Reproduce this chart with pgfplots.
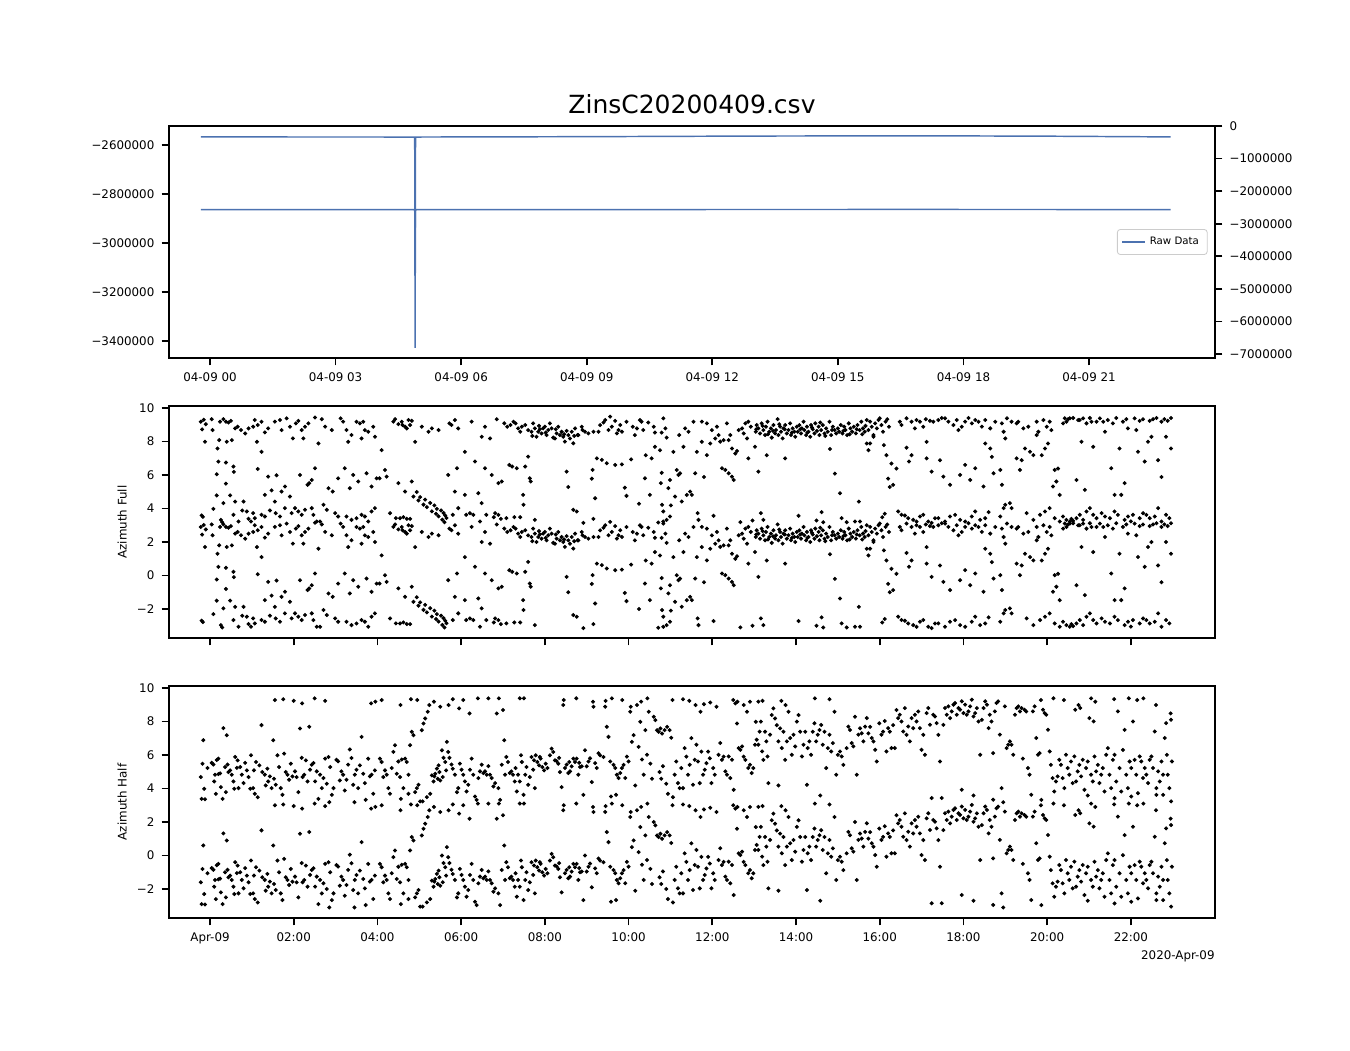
\documentclass[border=0pt]{standalone}
\usepackage{fontspec}
\setmainfont{DejaVu Sans}
\usepackage{pgfplots}
\pgfplotsset{compat=1.18}
\usepackage{pgfplotstable}
\definecolor{rawblue}{RGB}{76,114,176}

\pgfplotstableread{
h v
-0.22 -2567000
2.00 -2567300
4.89 -2567500
4.90 -3428000
4.91 -2567500
9.00 -2566000
13.00 -2563500
17.00 -2562500
20.00 -2564000
22.95 -2567000
}\rawtab

\pgfplotstableread[row sep=\\]{
h a\\
-0.22 2.90\\ -0.20 -2.70\\ -0.19 2.44\\ -0.17 -2.78\\ -0.15 3.02\\ -0.12 1.70\\ -0.10 2.75\\
0.04 3.05\\ 0.06 2.40\\ 0.08 -2.30\\ 0.16 -1.50\\ 0.16 -0.24\\ 0.18 1.30\\ 0.20 0.52\\ 0.22 1.80\\ 0.24 2.90\\ 0.26 -2.96\\
0.29 -3.10\\ 0.32 3.05\\ 0.32 -1.96\\ 0.38 2.90\\ 0.38 0.46\\ 0.38 -0.80\\ 0.40 1.70\\ 0.44 2.85\\ 0.48 -1.50\\ 0.50 2.95\\
0.52 1.80\\ 0.56 0.22\\ 0.56 -2.66\\ 0.57 -0.10\\ 0.60 2.50\\ 0.60 -1.87\\ 0.66 2.60\\ 0.68 -3.06\\ 0.74 2.40\\ 0.77 -2.40\\
0.80 -1.87\\ 0.84 2.20\\ 0.88 -2.46\\ 0.92 2.50\\ 0.92 -2.90\\ 0.98 -3.06\\
1.03 2.60\\ 1.03 -2.56\\ 1.07 3.00\\ 1.07 -2.86\\ 1.12 1.70\\ 1.14 2.70\\ 1.14 0.08\\ 1.23 2.90\\ 1.23 1.10\\ 1.23 -2.66\\
1.31 2.26\\ 1.31 -1.47\\ 1.31 -2.76\\ 1.39 2.50\\ 1.39 -0.38\\ 1.43 -2.40\\ 1.47 -1.20\\ 1.55 2.90\\ 1.55 -1.87\\ 1.57 -2.56\\
1.59 -0.30\\ 1.67 3.00\\ 1.67 -2.76\\ 1.71 2.40\\ 1.71 -1.27\\ 1.79 -0.97\\ 1.79 -2.26\\ 1.83 3.10\\ 1.91 2.60\\ 1.91 -1.57\\
1.95 -2.56\\ 1.98 1.90\\
2.03 -2.26\\ 2.05 2.80\\ 2.11 2.95\\ 2.11 -2.46\\ 2.15 -0.28\\ 2.19 2.40\\ 2.19 -2.66\\ 2.23 1.90\\ 2.27 2.60\\ 2.27 -2.36\\
2.33 -0.87\\ 2.35 2.80\\ 2.37 -0.77\\ 2.43 -0.58\\ 2.43 -2.26\\ 2.47 -2.66\\ 2.51 3.15\\ 2.51 0.12\\ 2.55 -3.06\\ 2.59 1.60\\
2.63 -3.06\\ 2.67 3.05\\ 2.71 -2.06\\ 2.75 2.60\\ 2.79 -2.36\\ 2.83 -1.07\\ 2.91 2.40\\ 2.93 -1.27\\ 2.99 -2.56\\
3.06 -0.48\\ 3.06 -2.76\\ 3.12 3.10\\ 3.18 2.90\\ 3.22 0.12\\ 3.26 2.40\\ 3.26 -2.76\\ 3.30 1.70\\ 3.34 -1.07\\ 3.38 2.10\\
3.38 -2.96\\ 3.42 -0.28\\ 3.50 2.90\\ 3.50 -2.86\\ 3.54 -0.67\\ 3.58 2.80\\ 3.62 1.90\\ 3.62 -2.66\\ 3.66 2.90\\ 3.70 2.40\\
3.70 -2.76\\ 3.74 -0.18\\ 3.78 2.30\\ 3.78 -3.06\\ 3.86 -0.97\\ 3.86 -2.46\\ 3.90 2.60\\ 3.94 2.00\\ 3.94 -2.26\\ 3.98 -0.48\\
4.05 -0.48\\ 4.10 1.20\\ 4.18 0.02\\ 4.22 -0.38\\ 4.30 -2.56\\ 4.38 2.90\\ 4.42 3.05\\ 4.44 -2.86\\ 4.50 2.75\\ 4.50 -0.77\\
4.54 -2.86\\ 4.58 2.90\\ 4.60 2.70\\ 4.62 -2.80\\ 4.66 2.60\\ 4.66 -1.27\\ 4.70 2.50\\ 4.70 -2.90\\ 4.74 3.00\\ 4.78 2.70\\
4.78 -2.90\\ 4.82 -0.67\\ 4.82 2.95\\ 4.86 -1.57\\ 4.90 1.70\\ 4.94 -1.30\\ 4.98 -1.80\\
5.02 -1.60\\ 5.06 2.60\\ 5.10 -2.05\\ 5.14 -1.75\\ 5.18 -2.20\\ 5.22 2.30\\ 5.26 -1.95\\ 5.30 -2.45\\ 5.30 2.50\\ 5.36 -2.10\\
5.40 -2.60\\ 5.42 -2.30\\ 5.46 -2.75\\ 5.46 2.40\\ 5.52 -2.40\\ 5.55 -2.95\\ 5.58 -2.55\\ 5.60 -3.10\\ 5.62 -2.70\\ 5.65 -2.85\\
5.69 -0.28\\ 5.72 2.80\\ 5.77 2.70\\ 5.80 -2.66\\ 5.85 3.00\\ 5.85 -1.27\\ 5.90 0.12\\ 5.93 2.50\\ 5.93 -2.26\\
6.09 1.10\\ 6.09 -1.47\\ 6.12 -2.66\\ 6.21 -2.56\\ 6.25 2.90\\ 6.29 -2.66\\ 6.33 0.52\\ 6.41 -1.37\\ 6.45 -3.06\\ 6.49 2.00\\
6.49 -1.96\\ 6.57 2.60\\ 6.57 0.12\\ 6.60 -2.66\\ 6.69 1.90\\ 6.73 -0.28\\ 6.78 -2.80\\ 6.81 -2.56\\ 6.85 3.05\\ 6.89 -0.77\\
6.89 -2.66\\ 6.95 -2.90\\ 6.97 -0.67\\
7.03 2.80\\ 7.08 -2.86\\ 7.10 2.60\\ 7.15 0.32\\ 7.18 2.70\\ 7.22 0.22\\ 7.25 2.90\\ 7.27 -2.80\\ 7.30 2.80\\ 7.33 0.12\\
7.36 2.50\\ 7.41 -2.80\\ 7.41 2.30\\ 7.45 2.60\\ 7.48 -1.47\\ 7.49 -2.06\\ 7.53 2.70\\ 7.53 0.22\\ 7.60 2.40\\ 7.60 0.81\\
7.64 -0.48\\ 7.66 -0.67\\ 7.68 2.30\\ 7.72 2.80\\ 7.76 2.50\\ 7.76 -2.96\\ 7.80 2.00\\ 7.84 2.30\\ 7.88 2.45\\ 7.92 2.20\\
7.96 2.50\\ 8.00 2.60\\ 8.04 2.10\\ 8.08 2.40\\ 7.70 2.05\\ 7.86 2.65\\ 8.02 2.25\\
8.12 2.80\\ 8.16 2.50\\ 8.20 1.95\\ 8.24 1.90\\ 8.28 2.20\\ 8.32 2.60\\ 8.36 2.10\\ 8.40 2.30\\ 8.44 2.00\\ 8.48 1.71\\
8.52 -0.08\\ 8.52 2.35\\ 8.56 2.10\\ 8.56 -1.00\\ 8.60 1.90\\ 8.64 2.30\\ 8.68 1.61\\ 8.68 -2.36\\ 8.72 2.50\\ 8.76 -2.46\\
8.78 2.10\\ 8.80 2.10\\ 8.88 2.60\\ 8.90 2.40\\ 8.92 -3.14\\ 8.96 2.30\\ 8.26 2.45\\ 8.46 2.15\\ 8.70 2.05\\
9.04 2.20\\ 9.12 -0.50\\ 9.14 0.02\\ 9.16 2.30\\ 9.16 -2.90\\ 9.20 -1.67\\ 9.24 0.71\\ 9.28 2.30\\ 9.32 2.70\\ 9.36 0.62\\
9.40 2.85\\ 9.44 3.00\\ 9.48 0.42\\ 9.52 2.40\\ 9.56 3.20\\ 9.60 2.60\\ 9.68 2.95\\ 9.68 0.32\\ 9.72 2.20\\ 9.76 2.40\\
9.80 2.70\\ 9.84 2.30\\ 9.84 0.35\\ 9.91 -1.04\\ 9.95 2.90\\ 9.95 -1.53\\
10.06 0.65\\ 10.10 2.60\\ 10.15 2.10\\ 10.20 2.50\\ 10.25 -2.00\\ 10.27 3.00\\ 10.31 2.90\\ 10.35 2.40\\ 10.39 -0.48\\ 10.41 0.90\\
10.47 2.85\\ 10.51 -1.47\\ 10.55 0.71\\ 10.60 2.60\\ 10.63 1.40\\ 10.63 2.25\\ 10.71 -3.12\\ 10.75 1.20\\ 10.77 -0.77\\ 10.79 -0.15\\
10.79 2.25\\ 10.80 -2.06\\ 10.83 -3.06\\ 10.83 -2.46\\ 10.83 3.10\\ 10.88 2.50\\ 10.91 1.95\\ 10.91 -2.96\\ 10.95 -1.07\\ 10.99 -0.58\\
10.99 -2.76\\ 11.01 -2.10\\
11.07 1.10\\ 11.11 -1.57\\ 11.15 0.02\\ 11.19 -0.28\\ 11.21 2.10\\ 11.23 -0.18\\ 11.27 -1.87\\ 11.31 1.40\\ 11.35 2.50\\ 11.39 -1.47\\
11.43 2.30\\ 11.47 -1.27\\ 11.51 -1.47\\ 11.55 2.90\\ 11.59 -0.18\\ 11.63 1.10\\ 11.65 -2.56\\ 11.67 -2.96\\ 11.75 2.90\\ 11.75 1.70\\
11.80 -0.40\\ 11.87 2.80\\ 11.87 0.90\\ 11.95 1.60\\ 11.99 2.40\\ 12.03 -2.72\\
12.07 1.90\\ 12.11 2.60\\ 12.15 2.10\\ 12.19 1.71\\ 12.23 0.12\\ 12.27 1.80\\ 12.31 0.02\\ 12.35 2.80\\ 12.39 1.80\\ 12.39 -0.18\\
12.43 2.10\\ 12.47 -0.38\\ 12.47 1.30\\ 12.51 -0.58\\ 12.55 1.00\\ 12.59 1.15\\ 12.63 2.40\\ 12.67 -3.10\\ 12.71 2.50\\ 12.75 2.20\\
12.79 2.80\\ 12.83 1.90\\ 12.86 2.90\\ 12.86 0.71\\ 12.92 2.60\\ 12.96 -3.00\\
13.02 1.40\\ 13.04 2.30\\ 13.06 2.70\\ 13.10 -0.08\\ 13.10 2.50\\ 13.14 2.20\\ 13.16 -2.56\\ 13.18 2.80\\ 13.22 2.40\\ 13.22 -2.96\\
13.26 2.10\\ 13.28 2.60\\ 13.30 0.90\\ 13.32 2.90\\ 13.36 2.30\\ 13.40 2.50\\ 13.42 1.95\\ 13.46 2.70\\ 13.50 2.20\\ 13.52 2.40\\
13.56 3.05\\ 13.58 2.10\\ 13.62 2.60\\ 13.64 2.30\\ 13.68 1.90\\ 13.70 2.50\\ 13.74 0.71\\ 13.74 2.70\\ 13.78 2.20\\ 13.82 2.40\\
13.86 2.80\\ 13.88 2.10\\ 13.92 2.50\\ 13.96 2.30\\ 13.98 2.00\\
13.05 2.45\\ 13.20 2.65\\ 13.33 2.15\\ 13.45 2.35\\ 13.60 2.75\\ 13.73 2.45\\ 13.90 2.25\\
14.02 2.60\\ 14.04 2.30\\ 14.06 -2.72\\ 14.08 2.70\\ 14.12 2.20\\ 14.14 2.50\\ 14.18 2.90\\ 14.20 2.40\\ 14.24 2.10\\ 14.26 2.60\\
14.30 2.30\\ 14.34 2.00\\ 14.36 2.70\\ 14.40 2.45\\ 14.44 2.20\\ 14.46 2.80\\ 14.49 -3.00\\ 14.50 2.35\\ 14.54 2.60\\ 14.56 2.10\\
14.60 2.40\\ 14.61 -2.50\\ 14.64 2.70\\ 14.65 -3.10\\ 14.68 2.20\\ 14.72 2.50\\ 14.76 2.30\\ 14.80 2.90\\ 14.81 1.27\\ 14.84 2.10\\
14.88 2.60\\ 14.92 2.40\\ 14.93 -0.20\\ 14.96 2.20\\
14.10 2.45\\ 14.27 2.25\\ 14.38 2.55\\ 14.58 2.85\\ 14.70 2.05\\ 14.86 2.40\\
15.00 2.50\\ 15.03 2.30\\ 15.05 -1.37\\ 15.07 2.70\\ 15.09 -2.86\\ 15.11 2.20\\ 15.15 2.60\\ 15.18 2.40\\ 15.21 -3.10\\ 15.22 2.10\\
15.26 2.80\\ 15.30 2.50\\ 15.34 2.30\\ 15.38 2.60\\ 15.41 -3.06\\ 15.43 2.20\\ 15.47 2.70\\ 15.50 -1.87\\ 15.52 2.40\\ 15.53 -3.06\\
15.56 2.90\\ 15.60 2.50\\ 15.64 2.30\\ 15.69 1.60\\ 15.69 3.00\\ 15.73 1.20\\ 15.73 2.40\\ 15.77 2.90\\ 15.77 1.60\\ 15.81 2.60\\
15.85 2.00\\ 15.85 2.10\\ 15.89 2.80\\ 15.93 2.50\\ 15.97 3.00\\ 16.00 3.10\\
15.13 2.35\\ 15.28 2.15\\ 15.45 2.45\\ 15.58 2.15\\ 15.66 2.65\\
16.04 2.70\\ 16.06 -2.80\\ 16.08 2.30\\ 16.10 1.50\\ 16.12 -2.60\\ 16.14 2.90\\ 16.16 0.90\\ 16.18 3.05\\ 16.20 -0.50\\ 16.22 2.60\\
16.24 -1.00\\ 16.28 0.40\\ 16.32 -0.87\\ 16.40 0.10\\ 16.44 -2.46\\ 16.48 2.90\\ 16.52 2.70\\ 16.52 -2.66\\ 16.60 -2.70\\ 16.64 3.10\\
16.64 1.35\\ 16.68 -2.86\\ 16.70 0.52\\ 16.76 2.90\\ 16.76 0.90\\ 16.80 -2.96\\ 16.84 2.50\\ 16.88 3.00\\ 16.88 -3.06\\ 16.96 2.90\\
16.96 -2.76\\ 17.04 2.60\\ 17.04 -2.66\\ 17.10 3.05\\ 17.12 1.70\\ 17.12 0.71\\ 17.16 -3.06\\ 17.20 2.95\\ 17.24 -0.08\\ 17.24 -3.14\\
17.28 2.90\\ 17.32 -2.86\\
17.40 3.00\\ 17.40 -2.86\\ 17.44 0.60\\ 17.48 3.12\\ 17.52 -0.38\\ 17.56 3.10\\ 17.56 -3.06\\ 17.64 2.90\\ 17.68 -0.87\\ 17.68 -2.76\\
17.76 2.70\\ 17.80 -2.66\\ 17.84 3.00\\ 17.88 2.40\\ 17.92 -0.28\\ 17.92 -2.96\\ 17.96 2.60\\ 18.04 2.90\\ 18.04 0.32\\ 18.04 -3.06\\
18.12 3.12\\ 18.16 -0.58\\ 18.20 2.80\\ 18.20 -2.76\\ 18.28 3.00\\ 18.28 0.12\\ 18.28 -2.46\\
18.36 2.90\\ 18.40 -2.96\\ 18.44 2.60\\ 18.48 -0.97\\ 18.52 3.00\\ 18.52 1.60\\ 18.52 -2.86\\ 18.60 -2.50\\ 18.64 2.50\\ 18.64 1.30\\
18.68 0.80\\ 18.72 -0.18\\ 18.76 2.90\\ 18.88 0.02\\ 18.88 -2.76\\ 18.92 -0.87\\ 18.92 2.80\\ 18.96 2.30\\ 18.96 -2.26\\ 19.00 1.90\\
19.00 -2.06\\ 19.04 3.10\\ 19.11 -1.96\\ 19.15 -2.26\\ 19.15 2.90\\ 19.27 0.71\\ 19.27 2.80\\
19.31 2.90\\ 19.35 0.02\\ 19.39 0.60\\ 19.43 2.50\\ 19.47 1.30\\ 19.51 -2.56\\ 19.55 2.60\\ 19.59 1.10\\ 19.67 0.90\\ 19.67 -2.96\\
19.75 2.10\\ 19.75 2.90\\ 19.79 2.30\\ 19.83 -2.66\\ 19.87 0.90\\ 19.91 3.00\\ 19.95 1.30\\ 19.95 -2.46\\ 19.99 2.60\\ 20.02 1.60\\
20.06 2.90\\ 20.06 -2.26\\
20.10 2.40\\ 20.14 -0.97\\ 20.18 0.02\\ 20.18 -2.86\\ 20.22 -0.67\\ 20.26 0.10\\ 20.30 -1.47\\ 20.30 -3.06\\ 20.38 2.80\\ 20.38 -2.76\\
20.42 3.10\\ 20.46 2.90\\ 20.46 -2.96\\ 20.50 3.05\\ 20.54 3.10\\ 20.54 -3.06\\ 20.58 -2.90\\ 20.62 3.12\\ 20.62 -3.02\\ 20.70 -0.58\\
20.70 -2.86\\ 20.74 3.00\\ 20.78 3.00\\ 20.78 -2.66\\ 20.82 1.70\\ 20.86 3.10\\ 20.86 -2.96\\ 20.90 -1.17\\ 20.94 2.80\\ 20.94 -2.46\\
21.02 3.12\\ 21.02 -2.26\\ 21.06 2.90\\ 21.10 1.40\\ 21.10 -2.66\\ 21.18 2.90\\ 21.18 -2.86\\
21.26 3.10\\ 21.30 -2.56\\ 21.34 2.90\\ 21.38 2.30\\ 21.38 -2.76\\ 21.45 3.00\\ 21.50 -2.86\\ 21.53 0.12\\ 21.57 2.80\\ 21.61 -1.47\\
21.61 -2.46\\ 21.65 3.12\\ 21.69 -2.66\\ 21.73 1.30\\ 21.77 -1.47\\ 21.81 2.90\\ 21.85 -0.77\\ 21.85 -2.96\\ 21.89 3.05\\ 21.93 2.50\\
21.93 -2.76\\ 22.00 -3.05\\ 22.05 -2.66\\ 22.09 3.10\\
22.13 2.40\\ 22.17 1.10\\ 22.21 2.95\\ 22.21 -2.86\\ 22.29 3.05\\ 22.29 -2.56\\ 22.33 0.52\\ 22.37 -2.66\\ 22.41 1.70\\ 22.45 2.95\\
22.45 -2.86\\ 22.49 2.00\\ 22.53 3.05\\ 22.57 -2.76\\ 22.61 3.12\\ 22.65 0.60\\ 22.65 -2.26\\ 22.73 2.90\\ 22.73 -0.40\\ 22.73 -3.06\\
22.80 3.05\\ 22.84 2.00\\ 22.84 -2.66\\ 22.88 2.95\\ 22.92 -2.86\\ 22.96 1.30\\ 22.96 3.12\\
}\fulltab

\pgfplotstableread[row sep=\\]{
h a\\
-0.22 -1.60\\ -0.20 -2.90\\ -0.18 -0.80\\ -0.16 0.60\\ -0.14 -2.30\\ -0.12 -2.92\\ -0.06 -1.06\\
0.04 -0.75\\ 0.08 -0.85\\ 0.10 -1.86\\ 0.12 -1.46\\ 0.14 -2.60\\ 0.16 -0.58\\ 0.20 -0.50\\ 0.20 -1.42\\ 0.24 -1.38\\ 0.26 -2.20\\
0.30 -2.90\\ 0.32 1.32\\ 0.36 -1.00\\ 0.38 -2.50\\ 0.40 0.90\\ 0.42 -0.85\\ 0.44 -1.30\\ 0.48 -1.20\\ 0.52 -1.46\\ 0.56 -1.86\\
0.58 -2.30\\ 0.60 -0.40\\ 0.64 -1.05\\ 0.66 -0.60\\ 0.68 -2.26\\ 0.72 -1.00\\ 0.76 -1.46\\ 0.80 -1.96\\ 0.84 -0.75\\ 0.88 -1.20\\
0.92 -1.60\\ 0.96 -2.30\\ 0.98 -0.30\\
1.03 -2.26\\ 1.05 -1.20\\ 1.07 -2.60\\ 1.10 -0.70\\ 1.14 -2.80\\ 1.18 -0.90\\ 1.23 1.50\\ 1.25 -1.30\\ 1.31 -1.46\\ 1.33 -2.10\\
1.37 -1.10\\ 1.39 -1.86\\ 1.43 -1.56\\ 1.47 -2.26\\ 1.51 0.60\\ 1.53 -1.70\\ 1.55 3.00\\ 1.57 -2.06\\ 1.61 -0.30\\ 1.65 -1.00\\
1.69 -2.26\\ 1.73 -2.66\\ 1.75 3.05\\ 1.77 -0.20\\ 1.81 -1.30\\ 1.85 -1.46\\ 1.89 -1.76\\ 1.93 -0.80\\ 1.97 -1.56\\ 2.00 2.95\\
2.03 -1.26\\ 2.07 -1.60\\ 2.11 -2.50\\ 2.15 1.30\\ 2.19 -0.45\\ 2.20 2.80\\ 2.21 -1.60\\ 2.25 -1.46\\ 2.29 -0.60\\ 2.33 -1.86\\
2.37 1.40\\ 2.39 -1.16\\ 2.43 -0.86\\ 2.47 -0.76\\ 2.50 3.10\\ 2.51 -1.86\\ 2.55 -1.26\\ 2.59 -2.90\\ 2.63 -1.46\\ 2.67 -2.26\\
2.71 -1.66\\ 2.75 -0.50\\ 2.75 2.95\\ 2.79 -2.00\\ 2.83 -0.40\\ 2.85 -3.10\\ 2.87 -1.00\\ 2.91 -2.66\\ 2.95 -2.26\\
3.02 -0.57\\ 3.06 -0.66\\ 3.10 -1.80\\ 3.14 -1.26\\ 3.18 -1.46\\ 3.22 -2.40\\ 3.26 -1.76\\ 3.30 -0.86\\ 3.34 0.05\\ 3.38 -0.46\\
3.42 -2.06\\ 3.45 -3.10\\ 3.46 -1.46\\ 3.50 -1.16\\ 3.54 -2.26\\ 3.58 -0.90\\ 3.62 0.80\\ 3.66 -1.40\\ 3.70 -1.96\\ 3.72 -2.96\\
3.78 -0.50\\ 3.82 -1.56\\ 3.85 2.80\\ 3.86 -1.46\\ 3.90 -2.60\\ 3.94 -1.20\\ 3.95 2.90\\
4.06 -0.50\\ 4.10 -0.70\\ 4.10 3.00\\ 4.14 -1.60\\ 4.18 -1.20\\ 4.22 -1.46\\ 4.26 -2.26\\ 4.30 -2.60\\ 4.34 -1.06\\ 4.38 -0.10\\
4.42 0.30\\ 4.46 -1.40\\ 4.50 -0.67\\ 4.54 -1.60\\ 4.55 2.70\\ 4.56 -2.90\\ 4.58 -0.55\\ 4.62 -2.26\\ 4.66 -0.50\\ 4.70 -0.70\\
4.74 -1.46\\ 4.74 -2.60\\ 4.78 0.30\\ 4.80 3.05\\ 4.82 1.10\\ 4.86 0.90\\ 4.90 -2.50\\ 4.94 -2.26\\ 4.95 3.00\\ 4.98 -2.06\\
5.02 -3.05\\ 5.06 1.20\\ 5.08 -3.05\\ 5.10 1.60\\ 5.14 1.90\\ 5.18 -2.80\\ 5.20 2.30\\ 5.24 2.70\\ 5.26 -2.60\\ 5.30 -1.50\\
5.34 -1.86\\ 5.35 2.90\\ 5.36 -1.56\\ 5.38 -1.40\\ 5.42 -1.10\\ 5.44 -1.70\\ 5.46 -0.90\\ 5.48 -1.30\\ 5.50 -1.80\\ 5.50 2.60\\
5.54 0.00\\ 5.56 -1.60\\ 5.58 -0.45\\ 5.62 -0.70\\ 5.64 -1.20\\ 5.66 0.50\\ 5.69 -0.10\\ 5.70 2.70\\ 5.72 -0.45\\ 5.77 -0.85\\
5.80 -1.10\\ 5.80 3.05\\ 5.85 -1.46\\ 5.90 -2.50\\ 5.93 -2.26\\ 5.95 2.50\\ 5.97 -0.80\\
6.01 -1.16\\ 6.05 -1.46\\ 6.05 3.00\\ 6.09 -1.86\\ 6.13 -2.46\\ 6.17 -2.06\\ 6.20 2.20\\ 6.21 -1.16\\ 6.25 -0.50\\ 6.29 -1.46\\
6.33 -2.76\\ 6.37 -2.96\\ 6.40 3.10\\ 6.41 -1.66\\ 6.45 -1.26\\ 6.49 -0.86\\ 6.53 -1.36\\ 6.57 -1.26\\ 6.61 -1.46\\ 6.65 -0.95\\
6.65 3.10\\ 6.69 -1.46\\ 6.73 -1.66\\ 6.77 -2.16\\ 6.81 -1.96\\ 6.85 2.20\\ 6.89 -2.26\\ 6.90 3.10\\ 6.93 -2.96\\ 6.97 -0.86\\
7.00 2.40\\ 7.03 0.60\\ 7.05 -1.46\\ 7.08 -0.40\\ 7.12 -0.70\\ 7.16 -1.36\\ 7.20 -1.26\\ 7.24 -1.46\\ 7.28 -1.86\\ 7.30 -1.06\\
7.33 -2.46\\ 7.36 -1.46\\ 7.40 -1.86\\ 7.40 3.10\\ 7.43 -0.30\\ 7.45 -0.70\\ 7.49 -2.66\\ 7.50 3.10\\ 7.53 -1.46\\ 7.56 -1.00\\
7.60 -2.06\\ 7.64 -1.60\\ 7.68 -0.40\\ 7.72 -1.16\\ 7.76 -2.26\\ 7.78 -0.30\\ 7.82 -0.70\\ 7.86 -0.90\\ 7.90 -0.50\\ 7.94 -1.00\\
7.98 -1.20\\ 8.02 -0.80\\ 8.06 -1.06\\ 7.74 -0.60\\ 7.88 -0.40\\
8.12 -0.30\\ 8.16 0.10\\ 8.20 -0.10\\ 8.24 -0.60\\ 8.28 -0.65\\ 8.32 -0.80\\ 8.36 -1.30\\ 8.40 -2.20\\ 8.44 2.70\\ 8.45 3.00\\
8.48 -1.06\\ 8.52 -0.86\\ 8.56 -1.36\\ 8.60 -1.26\\ 8.64 -0.96\\ 8.68 -0.50\\ 8.72 -0.70\\ 8.75 3.10\\ 8.76 -0.50\\ 8.80 -1.46\\
8.84 -1.00\\ 8.88 -0.96\\ 8.92 -2.66\\ 8.96 0.00\\ 9.00 -0.96\\ 9.04 -0.67\\ 8.34 -0.45\\ 8.58 -0.70\\ 8.82 -0.75\\
9.08 -0.48\\ 9.12 -1.90\\ 9.15 2.90\\ 9.16 2.60\\ 9.20 -0.77\\ 9.24 -1.06\\ 9.28 -0.18\\ 9.32 -0.30\\ 9.40 -0.40\\ 9.44 2.60\\
9.45 2.95\\ 9.48 1.40\\ 9.52 0.80\\ 9.56 -0.67\\ 9.58 -2.76\\ 9.60 3.10\\ 9.64 -0.87\\ 9.68 -1.06\\ 9.70 -2.66\\ 9.72 -1.46\\
9.76 -1.66\\ 9.80 -1.36\\ 9.84 -1.06\\ 9.85 3.00\\ 9.88 -0.87\\ 9.92 -1.66\\ 9.96 -0.38\\ 10.00 -0.67\\ 10.04 2.30\\ 10.05 2.60\\
10.08 0.50\\ 10.12 0.90\\ 10.16 -2.10\\ 10.20 2.70\\ 10.24 0.20\\ 10.28 1.70\\ 10.30 2.90\\ 10.32 -0.55\\ 10.36 -1.46\\ 10.40 1.20\\
10.44 -0.27\\ 10.45 3.10\\ 10.48 2.30\\ 10.52 -0.80\\ 10.56 -1.70\\ 10.60 2.00\\ 10.64 1.80\\ 10.68 1.20\\ 10.72 1.10\\ 10.74 -1.30\\
10.76 1.30\\ 10.78 -1.70\\ 10.80 1.00\\ 10.82 -0.95\\ 10.86 1.20\\ 10.90 -2.00\\ 10.92 1.40\\ 10.94 -2.60\\ 10.98 1.20\\ 11.02 0.75\\
11.05 3.00\\ 11.06 -2.80\\
11.10 -1.46\\ 11.14 -0.67\\ 11.18 -1.96\\ 11.22 -2.26\\ 11.26 -1.06\\ 11.30 -2.26\\ 11.30 3.05\\ 11.34 0.13\\ 11.38 -0.38\\ 11.42 -1.46\\
11.45 2.95\\ 11.46 -0.87\\ 11.50 0.73\\ 11.54 -2.06\\ 11.58 -0.57\\ 11.60 2.70\\ 11.62 0.33\\ 11.66 -0.67\\ 11.70 -1.96\\ 11.72 2.30\\
11.74 -0.08\\ 11.78 -1.46\\ 11.80 2.75\\ 11.82 -1.16\\ 11.86 -0.77\\ 11.90 -0.08\\ 11.94 -0.48\\ 11.95 2.85\\ 11.98 -1.96\\ 12.02 -1.06\\
12.06 -1.46\\ 12.10 2.60\\
12.15 -0.27\\ 12.19 0.43\\ 12.23 -0.57\\ 12.27 -0.38\\ 12.31 -1.26\\ 12.35 -1.46\\ 12.39 -0.37\\ 12.43 -1.66\\ 12.47 -0.57\\ 12.50 3.00\\
12.51 -2.36\\ 12.55 2.80\\ 12.59 1.60\\ 12.60 2.90\\ 12.63 0.13\\ 12.67 0.03\\ 12.71 0.23\\ 12.75 -0.38\\ 12.75 2.70\\ 12.79 -0.57\\
12.83 2.30\\ 12.86 -1.06\\ 12.90 -0.87\\ 12.90 2.90\\ 12.94 -1.36\\ 12.98 -1.06\\ 13.02 0.33\\ 13.04 1.70\\ 13.06 0.63\\
13.10 0.33\\ 13.10 2.90\\ 13.13 1.11\\ 13.16 1.71\\ 13.19 -0.07\\ 13.20 2.95\\ 13.22 -0.57\\ 13.26 1.11\\ 13.29 0.53\\ 13.32 -0.37\\
13.34 -1.96\\ 13.38 0.93\\ 13.42 2.10\\ 13.46 2.50\\ 13.50 1.90\\ 13.54 1.50\\ 13.58 0.53\\ 13.58 -2.10\\ 13.62 1.31\\ 13.65 2.95\\
13.66 0.13\\ 13.70 1.11\\ 13.74 -0.57\\ 13.75 2.70\\ 13.78 0.53\\ 13.82 2.30\\ 13.86 0.73\\ 13.90 -0.27\\ 13.94 0.93\\ 13.98 0.23\\
14.02 1.71\\
14.06 2.10\\ 14.10 1.11\\ 14.14 -0.37\\ 14.18 0.33\\ 14.22 1.11\\ 14.26 -2.06\\ 14.28 0.13\\ 14.32 0.53\\ 14.36 -0.27\\ 14.40 1.11\\
14.44 1.61\\ 14.45 3.10\\ 14.48 0.53\\ 14.52 0.93\\ 14.56 1.21\\ 14.58 -2.70\\ 14.60 1.51\\ 14.64 0.33\\ 14.68 1.11\\ 14.72 -1.06\\
14.76 0.13\\ 14.80 0.93\\ 14.80 3.05\\ 14.84 -0.07\\ 14.88 0.43\\ 14.92 2.30\\ 14.96 -1.46\\ 15.00 -0.27\\
15.05 -0.07\\ 15.09 -0.37\\ 15.13 -0.87\\ 15.21 0.13\\ 15.25 1.41\\ 15.29 1.21\\ 15.33 0.43\\ 15.37 0.23\\ 15.41 2.00\\ 15.45 -1.46\\
15.49 0.93\\ 15.53 1.31\\ 15.57 1.01\\ 15.61 0.53\\ 15.65 1.41\\ 15.69 1.92\\ 15.73 1.01\\ 15.77 1.40\\ 15.81 0.73\\ 15.85 0.53\\
15.89 0.03\\ 15.93 -0.67\\ 15.99 1.61\\ 16.04 0.93\\ 16.08 1.11\\ 16.12 1.75\\ 16.16 -0.07\\ 16.20 1.32\\ 16.24 1.11\\ 16.28 0.13\\
16.32 1.50\\ 16.36 0.13\\ 16.40 2.40\\ 16.44 1.92\\
16.48 2.12\\ 16.52 1.72\\ 16.56 1.12\\ 16.60 2.52\\ 16.64 0.92\\ 16.68 1.42\\ 16.72 0.53\\ 16.76 1.92\\ 16.80 1.32\\ 16.84 2.12\\
16.88 1.72\\ 16.92 2.32\\ 16.96 1.32\\ 17.00 0.03\\ 17.04 0.92\\ 17.08 -0.27\\ 17.12 2.22\\ 17.16 2.52\\ 17.20 1.52\\ 17.24 -2.85\\
17.28 2.12\\ 17.32 2.02\\ 17.36 1.62\\ 17.40 0.92\\ 17.44 -0.67\\ 17.48 -2.85\\
17.52 1.52\\ 17.56 2.52\\ 17.60 2.12\\ 17.64 2.62\\ 17.68 1.92\\ 17.72 2.32\\ 17.76 2.72\\ 17.80 2.82\\ 17.84 2.12\\ 17.88 2.52\\
17.92 2.42\\ 17.96 2.92\\ 17.96 -2.36\\ 18.00 2.22\\ 18.04 2.72\\ 18.08 2.12\\ 18.12 2.32\\ 18.16 2.62\\ 18.20 3.02\\ 18.24 2.02\\
18.24 -2.70\\ 18.28 2.22\\ 18.32 2.52\\ 18.36 1.72\\ 18.40 -0.27\\ 18.44 1.82\\
18.48 2.52\\ 18.52 2.92\\ 18.56 2.72\\ 18.60 1.32\\ 18.63 2.12\\ 18.67 1.72\\ 18.71 -0.17\\ 18.71 -2.95\\ 18.75 2.32\\ 18.79 2.82\\
18.83 2.92\\ 18.87 0.93\\ 18.91 -2.26\\ 18.95 -3.10\\ 18.99 2.62\\ 19.03 0.13\\ 19.07 0.33\\ 19.11 0.53\\ 19.15 0.33\\ 19.19 -0.27\\
19.23 2.12\\ 19.27 2.52\\ 19.31 2.62\\ 19.35 2.32\\ 19.39 2.52\\ 19.42 -0.50\\
19.46 2.42\\ 19.50 2.32\\ 19.54 -1.06\\ 19.58 -1.46\\ 19.62 -2.66\\ 19.66 2.32\\ 19.70 2.62\\ 19.74 0.73\\ 19.78 -0.27\\ 19.82 -0.17\\
19.85 3.00\\ 19.86 -2.96\\ 19.90 2.42\\ 19.94 2.22\\ 19.98 2.12\\ 20.02 1.22\\ 20.06 -0.07\\ 20.09 -0.87\\ 20.13 -1.66\\ 20.15 3.10\\
20.17 -2.46\\ 20.21 -1.86\\ 20.25 -1.56\\ 20.29 -0.57\\ 20.33 -0.87\\ 20.37 -1.66\\ 20.40 3.00\\ 20.41 -2.26\\
20.45 -0.27\\ 20.49 -1.06\\ 20.53 -1.46\\ 20.57 -0.67\\ 20.61 -1.96\\ 20.65 -0.37\\ 20.67 2.42\\ 20.69 -1.86\\ 20.73 -1.26\\ 20.75 2.70\\
20.77 -0.87\\ 20.79 2.52\\ 20.81 -1.56\\ 20.85 -0.57\\ 20.89 -2.36\\ 20.93 -1.06\\ 20.97 -2.70\\ 20.97 -0.67\\ 21.01 1.92\\ 21.05 -1.46\\
21.05 3.10\\ 21.09 -1.86\\ 21.11 1.72\\ 21.13 -0.37\\ 21.15 2.90\\ 21.17 -1.26\\ 21.21 -0.87\\ 21.25 -1.96\\ 21.29 -1.46\\ 21.33 -1.06\\
21.37 -2.46\\ 21.41 -0.27\\
21.45 0.13\\ 21.49 -1.46\\ 21.53 -2.26\\ 21.57 -0.57\\ 21.60 3.05\\ 21.61 -0.27\\ 21.61 -2.86\\ 21.65 -1.86\\ 21.69 2.32\\ 21.73 -1.06\\
21.77 -2.46\\ 21.81 0.02\\ 21.85 1.22\\ 21.89 -1.46\\ 21.93 -2.26\\ 21.95 3.10\\ 21.97 -0.67\\ 22.01 -1.06\\ 22.01 -2.76\\ 22.05 1.72\\
22.09 -0.57\\ 22.13 -1.46\\ 22.15 3.00\\ 22.17 -2.56\\ 22.21 -0.37\\ 22.25 -0.67\\ 22.29 -1.66\\ 22.30 3.10\\ 22.33 -1.06\\ 22.37 -1.46\\
22.41 -1.96\\
22.45 -0.57\\ 22.49 -0.37\\ 22.53 -1.06\\ 22.57 1.12\\ 22.60 2.70\\ 22.61 -2.26\\ 22.61 -2.66\\ 22.65 -1.26\\ 22.69 -1.86\\ 22.73 -0.67\\
22.77 -1.46\\ 22.77 -2.66\\ 22.81 0.73\\ 22.84 1.62\\ 22.86 -0.27\\ 22.88 -1.46\\ 22.92 -2.26\\ 22.95 2.20\\ 22.96 -3.05\\ 22.96 1.82\\
22.98 -0.67\\
}\halftab

\pgfplotsset{
  base/.style={
    scale only axis, width=502.08pt, height=111.36pt,
    xmin=-0.98, xmax=24.01,
    scaled x ticks=false, scaled y ticks=false,
    tick align=outside, major tick length=3.5pt,
    every tick/.style={black, line width=0.8pt},
    axis line style={line width=0.8pt},
    ticklabel style={font=\fontsize{5.7}{6.8}\selectfont},
    label style={font=\fontsize{5.7}{6.8}\selectfont},
    xtick pos=bottom, ytick pos=left,
    clip=true,
  },
  dots/.style={only marks, mark=*, mark size=0.75pt, black, mark options={draw=black, fill=black}},
}

\begin{document}
\begin{tikzpicture}
\path[use as bounding box] (0,0) rectangle (648pt,504pt);

% top panel, left axis
\begin{axis}[base, at={(81.12pt,332.16pt)}, anchor=south west,
  ymin=-3469388, ymax=-2522449,
  ytick={-3400000,-3200000,-3000000,-2800000,-2600000},
  yticklabels={−3400000,−3200000,−3000000,−2800000,−2600000},
  xtick={0,3,6,9,12,15,18,21},
  xticklabels={04-09 00,04-09 03,04-09 06,04-09 09,04-09 12,04-09 15,04-09 18,04-09 21}]
\addplot[rawblue, line width=0.7pt] table[x=h,y=v]{\rawtab};
\end{axis}

% top panel, right axis
\begin{axis}[base, at={(81.12pt,332.16pt)}, anchor=south west,
  ymin=-7122699, ymax=0,
  axis x line=none, axis y line*=right, ytick pos=right,
  ytick={-7000000,-6000000,-5000000,-4000000,-3000000,-2000000,-1000000,0},
  yticklabels={−7000000,−6000000,−5000000,−4000000,−3000000,−2000000,−1000000,0},
  legend style={at={(0.993,0.5)}, anchor=east, font=\fontsize{4.9}{5.9}\selectfont,
    draw=black!20, rounded corners=1.5pt, inner xsep=2pt, inner ysep=1.5pt},
  legend image code/.code={\draw[#1] (0pt,0pt) -- (10.9pt,0pt);}]
\addplot[rawblue, line width=0.7pt] table[x=h,y=v]{\rawtab};
\addlegendentry{Raw Data}
\end{axis}

% middle panel
\begin{axis}[base, at={(81.12pt,197.76pt)}, anchor=south west,
  ymin=-3.73, ymax=10.12,
  ytick={-2,0,2,4,6,8,10}, yticklabels={−2,0,2,4,6,8,10},
  xtick={0,2,...,22}, xticklabels={},
  ylabel={Azimuth Full},
  ylabel style={at={(axis description cs:-0.0448,0.5)}, anchor=center}]
\addplot[dots] table[x=h,y=a]{\fulltab};
\addplot[dots] table[x=h,y expr=\thisrow{a}+6.283185]{\fulltab};
\end{axis}

% bottom panel
\begin{axis}[base, at={(81.12pt,63.36pt)}, anchor=south west,
  ymin=-3.73, ymax=10.12,
  ytick={-2,0,2,4,6,8,10}, yticklabels={−2,0,2,4,6,8,10},
  xtick={0,2,...,22},
  xticklabels={Apr-09,02:00,04:00,06:00,08:00,10:00,12:00,14:00,16:00,18:00,20:00,22:00},
  ylabel={Azimuth Half},
  ylabel style={at={(axis description cs:-0.0448,0.5)}, anchor=center}]
\addplot[dots] table[x=h,y=a]{\halftab};
\addplot[dots] table[x=h,y expr=\thisrow{a}+6.283185]{\halftab};
\end{axis}

\node[font=\fontsize{12}{14}\selectfont] at (332.16pt,454.08pt) {ZinsC20200409.csv};
\node[font=\fontsize{5.7}{6.8}\selectfont, anchor=east, inner sep=0pt] at (583.2pt,45.12pt) {2020-Apr-09};
\end{tikzpicture}
\end{document}
